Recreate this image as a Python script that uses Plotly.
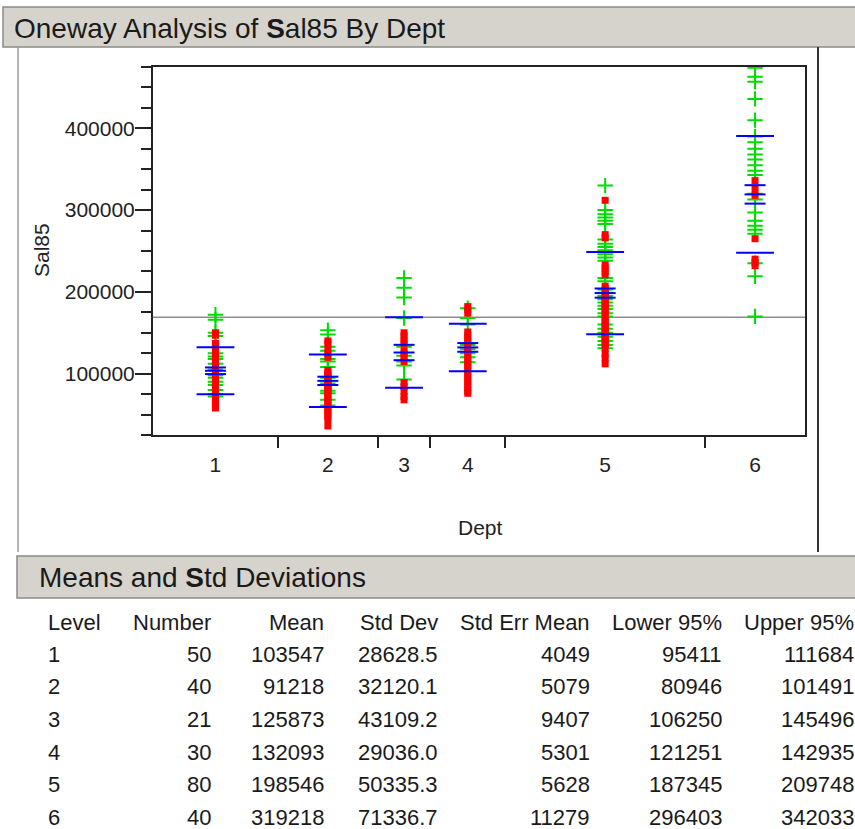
import numpy as np
import plotly.graph_objects as go

# summary table (Means and Std Deviations)
depts = ["1", "2", "3", "4", "5", "6"]
counts = [50, 40, 21, 30, 80, 40]
means = [103547, 91218, 125873, 132093, 198546, 319218]
std_devs = [28628.5, 32120.1, 43109.2, 29036.0, 50335.3, 71336.7]
std_errs = [4049, 5079, 9407, 5301, 5628, 11279]
lower95 = [95411, 80946, 106250, 121251, 187345, 296403]
upper95 = [111684, 101491, 145496, 142935, 209748, 342033]

# individual Sal85 values (green +, red squares)
dept1_green = [172000, 166000, 150000, 146000, 125000, 121000, 118000, 112000,
               105000, 98000, 95000, 90000, 86000, 80000, 75000, 72000]
dept1_red = [150000, 147000, 137000, 133000, 128000, 123000, 119000, 115000,
             112000, 110000, 107000, 104000, 101000, 99000, 97000, 95000,
             92000, 90000, 88000, 85000, 83000, 80000, 77000, 74000, 71000,
             68000, 65000, 62000, 60000, 58000]
dept2_green = [153000, 148000, 133000, 128000, 118000, 115000, 108000, 95000,
               88000, 79000, 76000, 68000, 61000]
dept2_red = [140000, 137000, 130000, 125000, 120000, 104000, 101000, 98000,
             96000, 93000, 90000, 88000, 86000, 84000, 82000, 80000, 77000,
             74000, 71000, 68000, 65000, 62000, 58000, 55000, 52000, 48000,
             44000, 36000]
dept3_green = [217000, 205000, 193000, 168000, 133000, 122000, 115000, 110000, 93000]
dept3_red = [150000, 146000, 141000, 137000, 128000, 124000, 120000, 115000,
             89000, 84000, 78000, 72000, 68000]
dept4_green = [180000, 168000, 160000, 135000, 130000, 125000, 120000, 114000]
dept4_red = [182000, 178000, 174000, 151000, 147000, 143000, 139000, 133000,
             128000, 124000, 119000, 115000, 111000, 107000, 103000, 99000,
             95000, 91000, 87000, 83000, 79000, 76000]
dept5_green = [330000, 300000, 295000, 291000, 287000, 283000, 264000, 259000,
               255000, 251000, 246000, 242000, 238000, 217000, 213000, 203000,
               199000, 195000, 191000, 187000, 183000, 179000, 174000, 170000,
               160000, 155000, 150000, 145000, 140000, 135000, 131000]
dept5_red = [312000, 270000, 266000, 233000, 229000, 225000, 221000, 207000,
             204000, 200000, 197000, 194000, 191000, 188000, 185000, 182000,
             179000, 176000, 173000, 168000, 165000, 162000, 159000, 156000,
             153000, 150000, 147000, 144000, 141000, 138000, 135000, 131000,
             124000, 119000, 112000]
dept6_green = [474000, 463000, 457000, 436000, 410000, 390000, 383000, 375000,
               368000, 362000, 355000, 348000, 343000, 320000, 313000, 297000,
               287000, 281000, 276000, 271000, 235000, 219000, 170000]
dept6_red = [336000, 326000, 318000, 265000, 240000, 236000, 232000]

greens = [dept1_green, dept2_green, dept3_green, dept4_green, dept5_green, dept6_green]
reds = [dept1_red, dept2_red, dept3_red, dept4_red, dept5_red, dept6_red]

W, H = 855, 829
FONT = "Liberation Sans, Arial, sans-serif"
GREEN = "#00dc00"
RED = "#ff0000"
BLUE = "#0000ff"
HEADER_FILL = "#d6d3cc"


def px(x):
    return x / W


def py(y):
    return 1 - y / H


# JMP gives each level a width proportional to its count
cnt = np.array(counts, dtype=float)
edges = np.cumsum(cnt)
centers = edges - cnt / 2
grand_mean = float(np.sum(cnt * np.array(means)) / cnt.sum())

fig = go.Figure()
fig.add_trace(go.Scatter(
    x=[0, edges[-1]], y=[grand_mean, grand_mean], mode="lines",
    line=dict(color="#8c8c8c", width=1.5), hoverinfo="skip",
))

for i, c in enumerate(centers):
    fig.add_trace(go.Scatter(
        x=[c] * len(greens[i]), y=greens[i], mode="markers",
        marker=dict(symbol="cross-thin-open", size=11, color=GREEN,
                    line=dict(width=2, color=GREEN)),
    ))
    fig.add_trace(go.Scatter(
        x=[c] * len(reds[i]), y=reds[i], mode="markers",
        marker=dict(symbol="square", size=7, color=RED, line=dict(width=0)),
    ))

for i, c in enumerate(centers):
    m, s, se = means[i], std_devs[i], std_errs[i]
    fig.add_trace(go.Scatter(
        x=[c, c], y=[m + s, m - s], mode="markers",
        marker=dict(symbol="line-ew-open", size=27, color=BLUE,
                    line=dict(width=2, color=BLUE)),
    ))
    fig.add_trace(go.Scatter(
        x=[c, c, c], y=[m + se, m, m - se], mode="markers",
        marker=dict(symbol="line-ew-open", size=15, color=BLUE,
                    line=dict(width=2, color=BLUE)),
    ))

# invisible trace so the divider-tick axis gets drawn
fig.add_trace(go.Scatter(x=[0], y=[grand_mean], xaxis="x2", mode="markers",
                         marker=dict(opacity=0), hoverinfo="skip"))

axis_font = dict(family=FONT, size=21, color="#222")
fig.update_layout(
    width=W, height=H, autosize=False,
    margin=dict(l=0, r=0, t=0, b=0),
    paper_bgcolor="white", plot_bgcolor="white",
    showlegend=False,
    font=dict(family=FONT, color="#222"),
    xaxis=dict(
        domain=[px(153), px(805)], range=[0, edges[-1]],
        tickmode="array", tickvals=list(centers), ticktext=depts,
        ticks="outside", ticklen=10, tickcolor="rgba(0,0,0,0)",
        tickfont=axis_font, showgrid=False, zeroline=False,
        showline=True, linecolor="#222", linewidth=2, mirror=True,
    ),
    xaxis2=dict(
        overlaying="x", anchor="y", side="bottom", range=[0, edges[-1]],
        tickmode="array", tickvals=list(edges[:-1]), showticklabels=False,
        ticks="outside", ticklen=12, tickwidth=1.5, tickcolor="#222",
        showgrid=False, zeroline=False, showline=False,
    ),
    yaxis=dict(
        domain=[py(435), py(67)], range=[25000, 475000],
        tickmode="linear", tick0=0, dtick=100000, tickformat="d",
        ticks="outside", ticklen=16, tickwidth=1.5, tickcolor="#222",
        ticklabelstandoff=-4,
        minor=dict(dtick=25000, tick0=0, ticks="outside", ticklen=10,
                   tickwidth=1.5, tickcolor="#222", showgrid=False),
        tickfont=axis_font, showgrid=False, zeroline=False,
        showline=True, linecolor="#222", linewidth=2, mirror=True,
    ),
)

shapes = [
    # report outline
    dict(type="line", xref="paper", yref="paper", x0=px(18), x1=px(18),
         y0=py(47), y1=py(552), line=dict(color="#9a9a9a", width=1.5)),
    dict(type="line", xref="paper", yref="paper", x0=px(818), x1=px(818),
         y0=py(47), y1=py(552), line=dict(color="#333", width=2)),
    # header bars
    dict(type="rect", xref="paper", yref="paper", x0=px(3), x1=px(870),
         y0=py(47), y1=py(7), fillcolor=HEADER_FILL,
         line=dict(color="#8a8a8a", width=1.5), layer="below"),
    dict(type="rect", xref="paper", yref="paper", x0=px(17), x1=px(870),
         y0=py(598), y1=py(556), fillcolor=HEADER_FILL,
         line=dict(color="#8a8a8a", width=1.5), layer="below"),
]

annotations = [
    dict(text="Oneway Analysis of <b>S</b>al85 By Dept", x=px(12), y=py(28),
         xref="paper", yref="paper", xanchor="left", yanchor="middle",
         showarrow=False, font=dict(family=FONT, size=28, color="#1a1a1a")),
    dict(text="Means and <b>S</b>td Deviations", x=px(37), y=py(577),
         xref="paper", yref="paper", xanchor="left", yanchor="middle",
         showarrow=False, font=dict(family=FONT, size=28, color="#1a1a1a")),
    dict(text="Dept", x=px(480), y=py(527), xref="paper", yref="paper",
         xanchor="center", yanchor="middle", showarrow=False, font=axis_font),
    dict(text="Sal85", x=px(42), y=py(250), xref="paper", yref="paper",
         xanchor="center", yanchor="middle", textangle=-90,
         showarrow=False, font=axis_font),
]

# table columns
col_x = [46, 213, 326, 440, 592, 724, 856]
headers = ["Level", "Number", "Mean", "Std Dev", "Std Err Mean", "Lower 95%", "Upper 95%"]
columns = [
    depts,
    [str(n) for n in counts],
    [str(v) for v in means],
    [f"{v:.1f}" for v in std_devs],
    [str(v) for v in std_errs],
    [str(v) for v in lower95],
    [str(v) for v in upper95],
]
row_y = [654, 686, 719, 752, 784, 817]
tfont = dict(family=FONT, size=22, color="#1a1a1a")
for j, (hdr, vals) in enumerate(zip(headers, columns)):
    anchor = "left" if j == 0 else "right"
    annotations.append(dict(text=hdr, x=px(col_x[j]), y=py(622), xref="paper", yref="paper",
                            xanchor=anchor, yanchor="middle", showarrow=False, font=tfont))
    for v, yy in zip(vals, row_y):
        annotations.append(dict(text=v, x=px(col_x[j]), y=py(yy), xref="paper", yref="paper",
                                xanchor=anchor, yanchor="middle", showarrow=False, font=tfont))

fig.update_layout(shapes=shapes, annotations=annotations)
# page body margin would otherwise push the figure 8px down and right
fig.write_html("out.html", config={"displayModeBar": False},
               post_script="document.body.style.margin = '0';")
